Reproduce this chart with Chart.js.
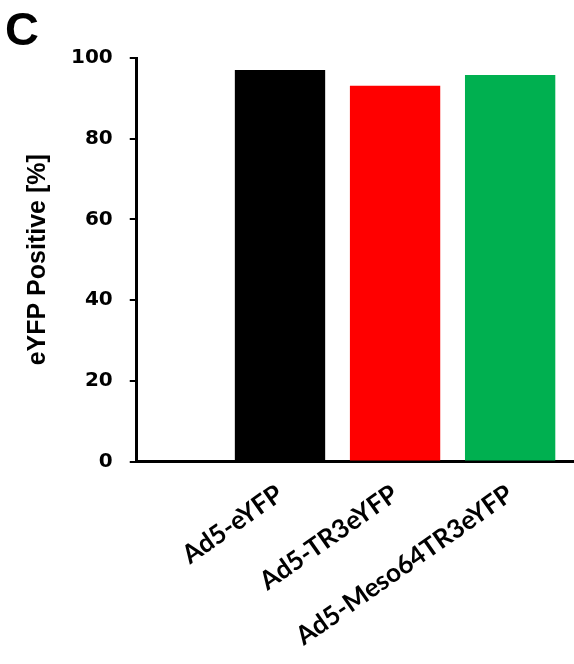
<!DOCTYPE html>
<html>
<head>
<meta charset="utf-8">
<script src="https://cdn.jsdelivr.net/npm/chart.js@4.4.0/dist/chart.umd.min.js"></script>
<style>
  body { margin: 0; background: #fff; }
  #wrap { position: relative; width: 574px; height: 664px; }
  #panel { position: absolute; left: 5px; top: 1px; font: bold 47px "Liberation Sans", Arial, sans-serif; color: #000; }
</style>
</head>
<body>
<div id="wrap">
  <canvas id="myChart" width="574" height="664"></canvas>
  <div id="panel">C</div>
</div>
<script>
const labels = ["Ad5-eYFP", "Ad5-TR3eYFP", "Ad5-Meso64TR3eYFP"];
const positions = [1, 2, 3];
const values = [97.0, 93.1, 95.8];
const colors = ["#000000", "#ff0000", "#00b050"];
const yTicks = [0, 20, 40, 60, 80, 100];

const points = [];
for (let i = 0; i < labels.length; i++) {
  points.push({ x: positions[i], y: values[i] });
}

const data = {
  datasets: [
    {
      label: "eYFP Positive",
      backgroundColor: colors,
      borderWidth: 0,
      data: points,
      barPercentage: 0.785,
      categoryPercentage: 1,
    },
  ],
};

const config = {
  type: "bar",
  data: data,
  options: {
    responsive: false,
    animation: false,
    layout: {
      padding: { top: 58, right: 0, left: 23, bottom: -5 },
    },
    plugins: {
      legend: { display: false },
      tooltip: { enabled: false },
    },
    scales: {
      x: {
        type: "linear",
        offset: false,
        min: -0.245,
        max: 3.555,
        afterBuildTicks: (scale) => {
          scale.ticks = positions.map((p) => ({ value: p }));
        },
        grid: { offset: false, drawOnChartArea: false, drawTicks: false },
        border: { color: "#000", width: 3 },
        ticks: {
          autoSkip: false,
          minRotation: 35,
          maxRotation: 35,
          padding: 17,
          color: "#000",
          font: { family: "Lato", weight: "bold", size: 26 },
          callback: (value) => labels[positions.indexOf(value)],
        },
      },
      y: {
        min: 0,
        max: 100,
        afterBuildTicks: (scale) => {
          scale.ticks = yTicks.map((v) => ({ value: v }));
        },
        grid: { drawOnChartArea: false, color: "#000", lineWidth: 2, tickLength: 7 },
        border: { color: "#000", width: 3 },
        ticks: {
          padding: 17,
          color: "#000",
          font: { family: "DejaVu Sans", weight: "bold", size: 20 },
        },
        title: {
          display: true,
          text: "eYFP Positive [%]",
          color: "#000",
          padding: { top: 0, bottom: 1 },
          font: { family: "Liberation Sans", weight: "bold", size: 25 },
        },
      },
    },
  },
};

const myChart = new Chart(document.getElementById("myChart"), config);
</script>
</body>
</html>
